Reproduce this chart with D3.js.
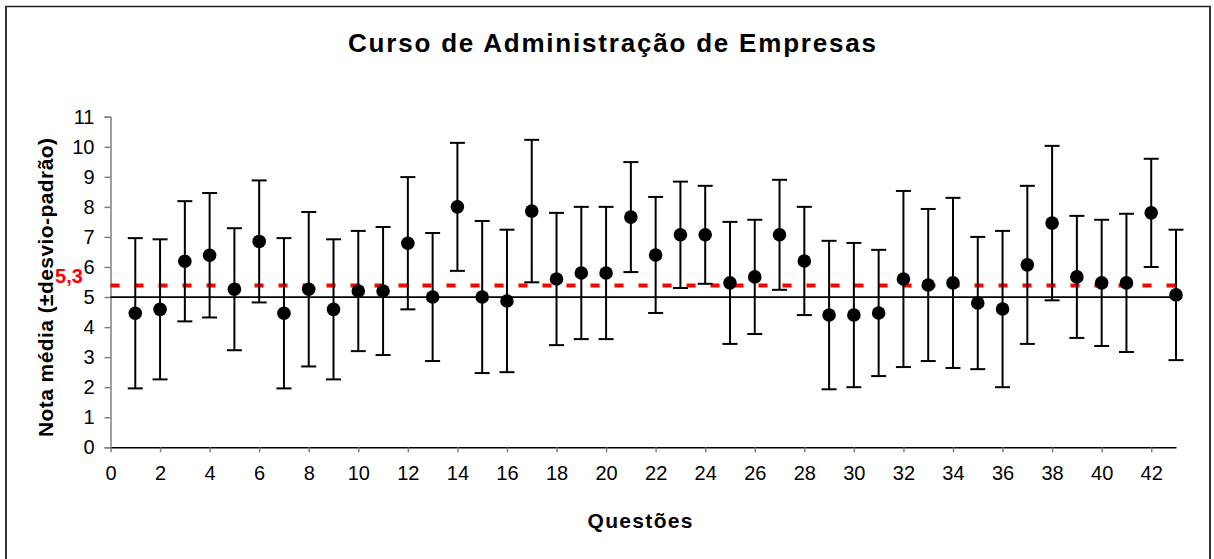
<!DOCTYPE html>
<html>
<head>
<meta charset="utf-8">
<script src="https://cdn.jsdelivr.net/npm/d3@7"></script>
<style>
  html, body { margin: 0; padding: 0; background: #fff; }
  svg { display: block; font-family: "Liberation Sans", Arial, sans-serif; }
</style>
</head>
<body>
<svg id="chart" width="1214" height="559"></svg>
<script>
// ---- data ----
const title = "Curso de Administração de Empresas";
const xTitle = "Questões";
const yTitle = "Nota média (±desvio-padrão)";
const questions = d3.range(1, 44);
const means = [4.46,4.59,6.19,6.39,5.26,6.85,4.46,5.26,4.59,5.20,5.20,6.79,5.00,8.00,5.00,4.87,7.86,5.60,5.80,5.80,7.66,6.40,7.07,7.07,5.47,5.67,7.07,6.20,4.40,4.40,4.47,5.60,5.40,5.47,4.80,4.60,6.07,7.46,5.67,5.47,5.47,7.80,5.07];
const sds = [2.50,2.33,2.00,2.07,2.03,2.03,2.50,2.57,2.33,2.00,2.13,2.20,2.13,2.13,2.53,2.37,2.37,2.20,2.20,2.20,1.83,1.93,1.77,1.63,2.03,1.90,1.83,1.80,2.47,2.40,2.10,2.93,2.53,2.83,2.20,2.60,2.63,2.57,2.03,2.10,2.30,1.80,2.17];
const xTicks = d3.range(0, 43, 2);
const yTicks = d3.range(0, 12, 1);
const passLine = 5;
const avgLine = 5.38;
const avgLabel = "5,3";

// ---- layout ----
const FONT = '"Liberation Sans", Arial, sans-serif';
const svg = d3.select("#chart");
const x = d3.scaleLinear().domain([0, 43]).range([110.5, 1176]);
const y = d3.scaleLinear().domain([0, 11]).range([447.3, 116.7]);

// frame
svg.append("line").attr("x1", 5).attr("x2", 1211).attr("y1", 6.5).attr("y2", 6.5).attr("stroke", "#222").attr("stroke-width", 1.5);
svg.append("line").attr("x1", 6).attr("x2", 6).attr("y1", 6).attr("y2", 559).attr("stroke", "#333").attr("stroke-width", 2);
svg.append("line").attr("x1", 1210).attr("x2", 1210).attr("y1", 6).attr("y2", 559).attr("stroke", "#333").attr("stroke-width", 2);

// title
svg.append("text").attr("x", 612).attr("y", 52).attr("text-anchor", "middle")
  .style("font-family", FONT).style("font-size", "26px").style("font-weight", "bold")
  .attr("textLength", 528).attr("lengthAdjust", "spacing")
  .text(title);

// y axis
const yAxis = svg.append("g").attr("transform", `translate(${x(0)},0)`)
  .call(d3.axisLeft(y).tickValues(yTicks).tickSize(6).tickPadding(10));
yAxis.select(".domain").attr("stroke", "#808080").attr("stroke-width", 1.5);
yAxis.selectAll(".tick line").attr("stroke", "#808080").attr("stroke-width", 1.5);
yAxis.selectAll(".tick text").style("font-size", "20px").style("font-family", FONT).attr("fill", "#000");

// x axis
const xAxis = svg.append("g").attr("transform", `translate(0,${y(0)})`)
  .call(d3.axisBottom(x).tickValues(xTicks).tickSize(5).tickSizeOuter(0).tickPadding(14));
xAxis.select(".domain").attr("stroke", "#000").attr("stroke-width", 1.5);
xAxis.selectAll(".tick line").attr("stroke", "#808080").attr("stroke-width", 1.5);
xAxis.selectAll(".tick text").style("font-size", "20px").style("font-family", FONT).attr("fill", "#000");

// axis titles
svg.append("text").attr("x", 640).attr("y", 528).attr("text-anchor", "middle")
  .style("font-family", FONT).style("font-size", "21px").style("font-weight", "bold")
  .attr("textLength", 105).attr("lengthAdjust", "spacing")
  .text(xTitle);
svg.append("text").attr("transform", "translate(53,287.5) rotate(-90)").attr("text-anchor", "middle")
  .style("font-family", FONT).style("font-size", "21px").style("font-weight", "bold")
  .attr("textLength", 299).attr("lengthAdjust", "spacing")
  .text(yTitle);

// reference lines
svg.append("line").attr("x1", x(0)).attr("x2", x(43)).attr("y1", y(passLine)).attr("y2", y(passLine))
  .attr("stroke", "#000").attr("stroke-width", 1.8);
svg.append("line").attr("x1", x(0)).attr("x2", x(43)).attr("y1", y(avgLine)).attr("y2", y(avgLine))
  .attr("stroke", "#ff0000").attr("stroke-width", 4).attr("stroke-dasharray", "9,15");
svg.append("text").attr("x", 69).attr("y", 283).attr("text-anchor", "middle")
  .style("font-family", FONT).style("font-size", "20px").style("font-weight", "bold").attr("fill", "#ff0000")
  .text(avgLabel);

// error bars
const data = questions.map((q, i) => ({ q, m: means[i], s: sds[i] }));
const g = svg.append("g");
const bars = g.selectAll("g.eb").data(data).join("g").attr("class", "eb");
bars.append("line").attr("x1", d => x(d.q)).attr("x2", d => x(d.q))
  .attr("y1", d => y(d.m + d.s)).attr("y2", d => y(d.m - d.s)).attr("stroke", "#000").attr("stroke-width", 2);
bars.append("line").attr("x1", d => x(d.q) - 7.5).attr("x2", d => x(d.q) + 7.5)
  .attr("y1", d => y(d.m + d.s)).attr("y2", d => y(d.m + d.s)).attr("stroke", "#000").attr("stroke-width", 2);
bars.append("line").attr("x1", d => x(d.q) - 7.5).attr("x2", d => x(d.q) + 7.5)
  .attr("y1", d => y(d.m - d.s)).attr("y2", d => y(d.m - d.s)).attr("stroke", "#000").attr("stroke-width", 2);
bars.append("circle").attr("cx", d => x(d.q)).attr("cy", d => y(d.m)).attr("r", 6.8).attr("fill", "#000");
</script>
</body>
</html>
